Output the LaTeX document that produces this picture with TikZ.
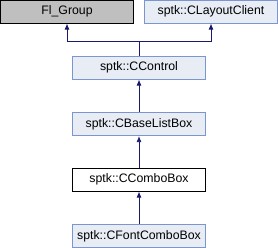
\documentclass[tikz,border=0pt]{standalone}
\usepackage{fontspec}
\setmainfont{Liberation Sans}
\usetikzlibrary{arrows.meta}
\definecolor{edgeblue}{HTML}{191970}
\definecolor{boxline}{HTML}{7B96CF}
\definecolor{boxfill}{HTML}{E8ECF5}
\definecolor{grayfill}{HTML}{BFBFBF}
\begin{document}
\begin{tikzpicture}[x=1pt,y=-1pt,
  cls/.style={draw=boxline,fill=boxfill,line width=0.8pt,minimum width=133pt,minimum height=23pt,inner sep=0pt,font=\fontsize{12.3}{14}\selectfont},
  clsgray/.style={cls,draw=black,fill=grayfill},
  clscur/.style={cls,draw=black,fill=white},
  inh/.style={draw=edgeblue,line width=0.8pt},
  inharr/.style={inh,-{Latex[length=6pt,width=5pt]}}]
\useasboundingbox (0,0) rectangle (278,248);
\node[clsgray] (flg) at (67,11.7) {Fl\_Group};
\node[cls] (lay) at (211,11.7) {sptk::CLayoutClient};
\node[cls] (ctl) at (139,67.7) {sptk::CControl};
\node[cls] (blb) at (139,124.2) {sptk::CBaseListBox};
\node[clscur] (cmb) at (139,179.7) {sptk::CComboBox};
\node[cls] (fcb) at (139,236.2) {sptk::CFontComboBox};
\coordinate (j) at (139,41);
\draw[inh] (ctl.north) -- (j);
\draw[inharr] (j) -| (flg.south);
\draw[inharr] (j) -| (lay.south);
\draw[inharr] (blb.north) -- (ctl.south);
\draw[inharr] (cmb.north) -- (blb.south);
\draw[inharr] (fcb.north) -- (cmb.south);
\end{tikzpicture}
\end{document}
